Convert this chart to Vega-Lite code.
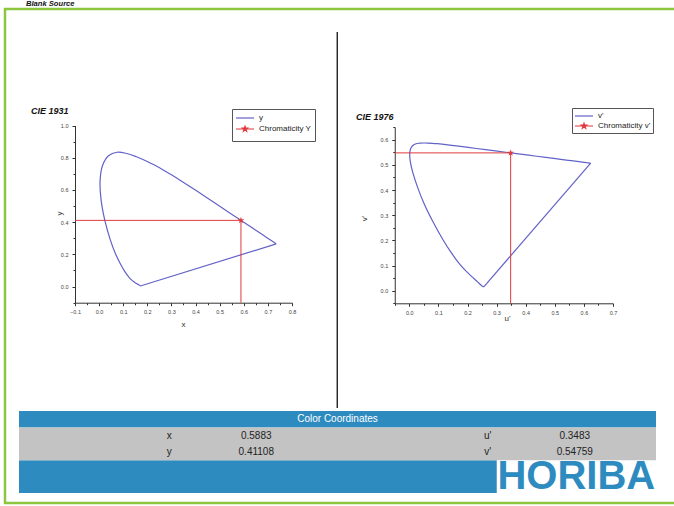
{
  "$schema": "https://vega.github.io/schema/vega-lite/v6.json",
  "width": 672,
  "height": 494,
  "autosize": "none",
  "padding": {"left": 5, "top": 9, "right": -3, "bottom": 3},
  "background": "white",
  "title": {"text": "Blank Source", "anchor": "start", "frame": "group", "dx": 21, "offset": 1, "fontSize": 7.6, "fontStyle": "italic", "fontWeight": "bold", "color": "#111", "font": "Liberation Sans"},
  "config": {"font": "Liberation Sans", "view": {"stroke": "#8cc63f", "strokeWidth": 2.5}},
  "datasets": {
    "locus": [
      {"nm": 380, "x": 0.1741, "y": 0.0050, "u": 0.2568, "v": 0.0166},
      {"nm": 400, "x": 0.1733, "y": 0.0048, "u": 0.2557, "v": 0.0159},
      {"nm": 410, "x": 0.1726, "y": 0.0048, "u": 0.2545, "v": 0.0159},
      {"nm": 420, "x": 0.1714, "y": 0.0051, "u": 0.2522, "v": 0.0169},
      {"nm": 430, "x": 0.1689, "y": 0.0069, "u": 0.2461, "v": 0.0226},
      {"nm": 440, "x": 0.1644, "y": 0.0109, "u": 0.2347, "v": 0.0350},
      {"nm": 445, "x": 0.1611, "y": 0.0138, "u": 0.2266, "v": 0.0437},
      {"nm": 450, "x": 0.1566, "y": 0.0177, "u": 0.2161, "v": 0.0549},
      {"nm": 455, "x": 0.1510, "y": 0.0227, "u": 0.2033, "v": 0.0688},
      {"nm": 460, "x": 0.1440, "y": 0.0297, "u": 0.1877, "v": 0.0871},
      {"nm": 465, "x": 0.1355, "y": 0.0399, "u": 0.1690, "v": 0.1119},
      {"nm": 470, "x": 0.1241, "y": 0.0578, "u": 0.1441, "v": 0.1510},
      {"nm": 475, "x": 0.1096, "y": 0.0868, "u": 0.1147, "v": 0.2044},
      {"nm": 480, "x": 0.0913, "y": 0.1327, "u": 0.0828, "v": 0.2708},
      {"nm": 485, "x": 0.0687, "y": 0.2007, "u": 0.0521, "v": 0.3427},
      {"nm": 490, "x": 0.0454, "y": 0.2950, "u": 0.0282, "v": 0.4117},
      {"nm": 495, "x": 0.0235, "y": 0.4127, "u": 0.0119, "v": 0.4698},
      {"nm": 500, "x": 0.0082, "y": 0.5384, "u": 0.0035, "v": 0.5131},
      {"nm": 505, "x": 0.0039, "y": 0.6548, "u": 0.0014, "v": 0.5432},
      {"nm": 510, "x": 0.0139, "y": 0.7502, "u": 0.0046, "v": 0.5638},
      {"nm": 515, "x": 0.0389, "y": 0.8120, "u": 0.0123, "v": 0.5770},
      {"nm": 520, "x": 0.0743, "y": 0.8338, "u": 0.0231, "v": 0.5837},
      {"nm": 525, "x": 0.1142, "y": 0.8262, "u": 0.0360, "v": 0.5861},
      {"nm": 530, "x": 0.1547, "y": 0.8059, "u": 0.0501, "v": 0.5868},
      {"nm": 535, "x": 0.1929, "y": 0.7816, "u": 0.0643, "v": 0.5865},
      {"nm": 540, "x": 0.2296, "y": 0.7543, "u": 0.0792, "v": 0.5856},
      {"nm": 545, "x": 0.2658, "y": 0.7243, "u": 0.0953, "v": 0.5841},
      {"nm": 550, "x": 0.3016, "y": 0.6923, "u": 0.1127, "v": 0.5821},
      {"nm": 555, "x": 0.3373, "y": 0.6589, "u": 0.1319, "v": 0.5796},
      {"nm": 560, "x": 0.3731, "y": 0.6245, "u": 0.1531, "v": 0.5766},
      {"nm": 565, "x": 0.4087, "y": 0.5896, "u": 0.1766, "v": 0.5732},
      {"nm": 570, "x": 0.4441, "y": 0.5547, "u": 0.2026, "v": 0.5694},
      {"nm": 575, "x": 0.4788, "y": 0.5202, "u": 0.2312, "v": 0.5651},
      {"nm": 580, "x": 0.5125, "y": 0.4866, "u": 0.2623, "v": 0.5604},
      {"nm": 585, "x": 0.5448, "y": 0.4544, "u": 0.2960, "v": 0.5554},
      {"nm": 590, "x": 0.5752, "y": 0.4242, "u": 0.3315, "v": 0.5501},
      {"nm": 595, "x": 0.6029, "y": 0.3965, "u": 0.3681, "v": 0.5446},
      {"nm": 600, "x": 0.6270, "y": 0.3725, "u": 0.4035, "v": 0.5393},
      {"nm": 605, "x": 0.6482, "y": 0.3514, "u": 0.4379, "v": 0.5342},
      {"nm": 610, "x": 0.6658, "y": 0.3340, "u": 0.4692, "v": 0.5296},
      {"nm": 615, "x": 0.6801, "y": 0.3197, "u": 0.4968, "v": 0.5254},
      {"nm": 620, "x": 0.6915, "y": 0.3083, "u": 0.5203, "v": 0.5219},
      {"nm": 625, "x": 0.7006, "y": 0.2993, "u": 0.5399, "v": 0.5190},
      {"nm": 630, "x": 0.7079, "y": 0.2920, "u": 0.5565, "v": 0.5165},
      {"nm": 640, "x": 0.7190, "y": 0.2809, "u": 0.5830, "v": 0.5125},
      {"nm": 650, "x": 0.7260, "y": 0.2740, "u": 0.6005, "v": 0.5099},
      {"nm": 660, "x": 0.7300, "y": 0.2700, "u": 0.6109, "v": 0.5084},
      {"nm": 680, "x": 0.7334, "y": 0.2666, "u": 0.6199, "v": 0.5070},
      {"nm": 700, "x": 0.7347, "y": 0.2653, "u": 0.6234, "v": 0.5065}
    ],
    "drop": [
      {"seq": 0, "x": -0.1, "y": 0.41108, "u": -0.05, "v": 0.54759},
      {"seq": 1, "x": 0.5883, "y": 0.41108, "u": 0.3483, "v": 0.54759},
      {"seq": 2, "x": 0.5883, "y": -0.1, "u": 0.3483, "v": -0.05}
    ],
    "chroma": [
      {"x": 0.5883, "y": 0.41108, "u": 0.3483, "v": 0.54759}
    ],
    "blocks": [
      {"part": "header", "from": "q1", "to": "q4", "top": "header", "bottom": "header"},
      {"part": "values", "from": "q1", "to": "q4", "top": "r1", "bottom": "r2"},
      {"part": "footer", "from": "q1", "to": "q3", "top": "f1", "bottom": "f2"}
    ],
    "entries": [
      {"row": "r1", "q": "q2", "key": "x", "val": "0.5883"},
      {"row": "r2", "q": "q2", "key": "y", "val": "0.41108"},
      {"row": "r1", "q": "q4", "key": "u'", "val": "0.3483"},
      {"row": "r2", "q": "q4", "key": "v'", "val": "0.54759"}
    ]
  },
  "layer": [
    {
      "encoding": {
        "x": {"field": "q", "type": "nominal", "scale": {"type": "band", "domain": ["q1", "q2", "q3", "q4"], "range": [14, 651], "paddingInner": 0, "paddingOuter": 0}, "axis": null},
        "y": {"field": "row", "type": "nominal", "scale": {"type": "band", "domain": ["header", "r1", "r2", "f1", "f2"], "range": [402, 484], "paddingInner": 0, "paddingOuter": 0}, "axis": null}
      },
      "layer": [
        {"data": {"name": "blocks"}, "transform": [{"filter": "datum.part !== 'values'"}], "mark": {"type": "rect", "color": "#2e8bc0"},
          "encoding": {"x": {"field": "from", "type": "nominal", "bandPosition": 0}, "x2": {"field": "to", "bandPosition": 1}, "y": {"field": "top", "type": "nominal", "bandPosition": 0}, "y2": {"field": "bottom", "bandPosition": 1}}},
        {"data": {"name": "blocks"}, "transform": [{"filter": "datum.part === 'values'"}], "mark": {"type": "rect", "color": "#c3c3c3"},
          "encoding": {"x": {"field": "from", "type": "nominal", "bandPosition": 0}, "x2": {"field": "to", "bandPosition": 1}, "y": {"field": "top", "type": "nominal", "bandPosition": 0}, "y2": {"field": "bottom", "bandPosition": 1}}},
        {"data": {"values": [{"row": "header", "q": "q3", "label": "Color Coordinates"}]}, "mark": {"type": "text", "color": "white", "fontSize": 10, "align": "center", "baseline": "middle"}, "encoding": {"x": {"field": "q", "type": "nominal", "bandPosition": 0}, "text": {"field": "label"}}},
        {"data": {"name": "entries"}, "mark": {"type": "text", "color": "#222", "fontSize": 10, "align": "center", "baseline": "middle", "dx": -9}, "encoding": {"x": {"field": "q", "type": "nominal", "bandPosition": 0}, "text": {"field": "key"}}},
        {"data": {"name": "entries"}, "mark": {"type": "text", "color": "#222", "fontSize": 10, "align": "center", "baseline": "middle", "dx": 78}, "encoding": {"x": {"field": "q", "type": "nominal", "bandPosition": 0}, "text": {"field": "val"}}},
        {"data": {"values": [{"row": "f2", "q": "q4", "label": "HORIBA"}]}, "mark": {"type": "text", "color": "#2e8bc0", "fontSize": 40, "fontWeight": "bold", "align": "center", "baseline": "middle"}, "encoding": {"y": {"field": "row", "type": "nominal", "bandPosition": 0}, "text": {"field": "label"}}}
      ]
    },
    {
      "data": {"values": [{"part": "charts", "pos": "middle"}]},
      "mark": {"type": "rect", "color": "#111"},
      "encoding": {
        "x": {"field": "pos", "type": "nominal", "scale": {"type": "band", "range": [331.6, 332.9], "paddingInner": 0, "paddingOuter": 0}, "axis": null},
        "y": {"field": "part", "type": "nominal", "scale": {"type": "band", "range": [23, 399], "paddingInner": 0, "paddingOuter": 0}, "axis": null}
      }
    },
    {
      "data": {"values": [{"plot": "CIE 1931"}, {"plot": "CIE 1976"}]},
      "mark": {"type": "text", "align": "left", "baseline": "middle", "fontSize": 9, "fontWeight": "bold", "fontStyle": "italic", "color": "#111"},
      "encoding": {
        "x": {"field": "plot", "type": "nominal", "bandPosition": 0, "scale": {"type": "band", "range": [26, 676], "paddingInner": 0, "paddingOuter": 0}, "axis": null},
        "y": {"field": "plot", "type": "nominal", "bandPosition": 0, "scale": {"type": "band", "range": [102, 114], "paddingInner": 0, "paddingOuter": 0}, "axis": null},
        "text": {"field": "plot", "type": "nominal"}
      }
    },
    {
      "encoding": {
        "x": {"field": "x", "type": "quantitative", "scale": {"domain": [-0.1, 0.8], "range": [70, 287], "nice": false, "zero": false},
          "axis": {"orient": "bottom", "offset": -200.3, "grid": false, "values": [-0.1, -0.05, 0, 0.05, 0.1, 0.15, 0.2, 0.25, 0.3, 0.35, 0.4, 0.45, 0.5, 0.55, 0.6, 0.65, 0.7, 0.75, 0.8],
            "labelExpr": "abs(datum.value*10-round(datum.value*10))<0.001 ? format(datum.value,'.1f') : ''",
            "tickSize": {"condition": {"test": "abs(datum.value*10-round(datum.value*10))<0.001", "value": 3}, "value": 2},
            "labelFontSize": 5.5, "labelColor": "#444", "labelPadding": 4, "labelFlush": false, "labelOverlap": false,
            "domainColor": "#333", "tickColor": "#333", "title": "x", "titleFontSize": 8, "titleFontWeight": "normal", "titleColor": "#333", "titleX": 178, "titleY": 22, "titleBaseline": "middle", "titleAlign": "center"}},
        "y": {"field": "y", "type": "quantitative", "scale": {"domain": [-0.1, 1.0], "range": [293.7, 116.5], "nice": false, "zero": false},
          "axis": {"orient": "left", "offset": -70, "grid": false, "values": [-0.1, 0, 0.1, 0.2, 0.3, 0.4, 0.5, 0.6, 0.7, 0.8, 0.9, 1.0],
            "labelExpr": "abs(datum.value*5-round(datum.value*5))<0.001 ? format(datum.value,'.1f') : ''",
            "tickSize": {"condition": {"test": "abs(datum.value*5-round(datum.value*5))<0.001", "value": 3}, "value": 2},
            "labelFontSize": 5.5, "labelColor": "#444", "labelPadding": 4, "labelFlush": false, "labelOverlap": false,
            "domainColor": "#333", "tickColor": "#333", "title": "y", "titleFontSize": 8, "titleFontWeight": "normal", "titleColor": "#333", "titleX": -16, "titleY": 204, "titleBaseline": "middle", "titleAlign": "center", "titleAngle": -90}}
      },
      "layer": [
        {"data": {"name": "locus"}, "mark": {"type": "line", "strokeWidth": 1.2, "interpolate": "catmull-rom"},
          "encoding": {"order": {"field": "nm"},
            "color": {"datum": "y", "type": "nominal", "scale": {"domain": ["y", "Chromaticity Y"], "range": ["#6262c8", "#e0393e"]},
              "legend": {"orient": "none", "legendX": 227, "legendY": 100, "title": " ", "titleOrient": "bottom", "titleFontSize": 4, "titlePadding": 0, "strokeColor": "#555", "fillColor": "white", "padding": 3,
                "labelFontSize": 8, "labelColor": "#222", "symbolSize": 100, "symbolOffset": 4, "labelOffset": 8, "rowPadding": 1,
                "encode": {"symbols": {"update": {
                  "shape": {"signal": "datum.index === 0 ? 'M-1.8,0H1.8' : 'M-1.8,0H1.8M0,-0.55L0.13,-0.18L0.52,-0.18L0.21,0.07L0.32,0.45L0,0.22L-0.32,0.45L-0.21,0.07L-0.52,-0.18L-0.13,-0.18Z'"},
                  "fill": {"signal": "datum.index === 0 ? 'transparent' : '#e0393e'"},
                  "stroke": {"signal": "datum.index === 0 ? '#6262c8' : '#e0393e'"},
                  "strokeWidth": {"value": 1.2}}}}}}}},
        {"data": {"name": "locus"}, "transform": [{"filter": "datum.nm === 380 || datum.nm === 700"}], "mark": {"type": "line", "strokeWidth": 1.2}, "encoding": {"order": {"field": "nm"}, "color": {"datum": "y", "type": "nominal"}}},
        {"data": {"name": "drop"}, "mark": {"type": "line", "strokeWidth": 1}, "encoding": {"order": {"field": "seq"}, "color": {"datum": "Chromaticity Y", "type": "nominal"}}},
        {"data": {"name": "chroma"}, "mark": {"type": "point", "shape": "M0,-1L0.235,-0.324L0.951,-0.309L0.38,0.124L0.588,0.809L0,0.4L-0.588,0.809L-0.38,0.124L-0.951,-0.309L-0.235,-0.324Z", "filled": true, "size": 49, "opacity": 1}, "encoding": {"color": {"datum": "Chromaticity Y", "type": "nominal"}}}
      ]
    },
    {
      "encoding": {
        "x": {"field": "u", "type": "quantitative", "scale": {"domain": [-0.05, 0.7], "range": [389.75, 608], "nice": false, "zero": false},
          "axis": {"orient": "bottom", "offset": -199.7, "grid": false, "values": [-0.05, 0, 0.05, 0.1, 0.15, 0.2, 0.25, 0.3, 0.35, 0.4, 0.45, 0.5, 0.55, 0.6, 0.65, 0.7],
            "labelExpr": "abs(datum.value*10-round(datum.value*10))<0.001 ? format(datum.value,'.1f') : ''",
            "tickSize": {"condition": {"test": "abs(datum.value*10-round(datum.value*10))<0.001", "value": 3}, "value": 2},
            "labelFontSize": 5.5, "labelColor": "#444", "labelPadding": 4, "labelFlush": false, "labelOverlap": false,
            "domainColor": "#333", "tickColor": "#333", "title": "u'", "titleFontSize": 8, "titleFontWeight": "normal", "titleColor": "#333", "titleX": 502, "titleY": 15, "titleBaseline": "middle", "titleAlign": "center"}},
        "y": {"field": "v", "type": "quantitative", "scale": {"domain": [-0.05, 0.65], "range": [294.3, 118.1], "nice": false, "zero": false},
          "axis": {"orient": "left", "offset": -389.75, "grid": false, "values": [-0.05, 0, 0.05, 0.1, 0.15, 0.2, 0.25, 0.3, 0.35, 0.4, 0.45, 0.5, 0.55, 0.6, 0.65],
            "labelExpr": "abs(datum.value*10-round(datum.value*10))<0.001 ? format(datum.value,'.1f') : ''",
            "tickSize": {"condition": {"test": "abs(datum.value*10-round(datum.value*10))<0.001", "value": 3}, "value": 2},
            "labelFontSize": 5.5, "labelColor": "#444", "labelPadding": 4, "labelFlush": false, "labelOverlap": false,
            "domainColor": "#333", "tickColor": "#333", "title": "v'", "titleFontSize": 8, "titleFontWeight": "normal", "titleColor": "#333", "titleX": -30, "titleY": 209, "titleBaseline": "middle", "titleAlign": "center", "titleAngle": -90}}
      },
      "layer": [
        {"data": {"name": "locus"}, "mark": {"type": "line", "strokeWidth": 1.2, "interpolate": "catmull-rom"},
          "encoding": {"order": {"field": "nm"},
            "color": {"datum": "v'", "type": "nominal", "scale": {"domain": ["v'", "Chromaticity v'"], "range": ["#6262c8", "#e0393e"]},
              "legend": {"orient": "none", "legendX": 567, "legendY": 99, "title": null, "strokeColor": "#555", "fillColor": "white", "padding": 2,
                "labelFontSize": 8, "labelColor": "#222", "symbolSize": 100, "symbolOffset": 4, "labelOffset": 8, "rowPadding": 0,
                "encode": {"symbols": {"update": {
                  "shape": {"signal": "datum.index === 0 ? 'M-1.8,0H1.8' : 'M-1.8,0H1.8M0,-0.55L0.13,-0.18L0.52,-0.18L0.21,0.07L0.32,0.45L0,0.22L-0.32,0.45L-0.21,0.07L-0.52,-0.18L-0.13,-0.18Z'"},
                  "fill": {"signal": "datum.index === 0 ? 'transparent' : '#e0393e'"},
                  "stroke": {"signal": "datum.index === 0 ? '#6262c8' : '#e0393e'"},
                  "strokeWidth": {"value": 1.2}}}}}}}},
        {"data": {"name": "locus"}, "transform": [{"filter": "datum.nm === 380 || datum.nm === 700"}], "mark": {"type": "line", "strokeWidth": 1.2}, "encoding": {"order": {"field": "nm"}, "color": {"datum": "v'", "type": "nominal"}}},
        {"data": {"name": "drop"}, "mark": {"type": "line", "strokeWidth": 1}, "encoding": {"order": {"field": "seq"}, "color": {"datum": "Chromaticity v'", "type": "nominal"}}},
        {"data": {"name": "chroma"}, "mark": {"type": "point", "shape": "M0,-1L0.235,-0.324L0.951,-0.309L0.38,0.124L0.588,0.809L0,0.4L-0.588,0.809L-0.38,0.124L-0.951,-0.309L-0.235,-0.324Z", "filled": true, "size": 49, "opacity": 1}, "encoding": {"color": {"datum": "Chromaticity v'", "type": "nominal"}}}
      ]
    }
  ],
  "resolve": {"scale": {"x": "independent", "y": "independent", "color": "independent"}, "axis": {"x": "independent", "y": "independent"}, "legend": {"color": "independent"}}
}
